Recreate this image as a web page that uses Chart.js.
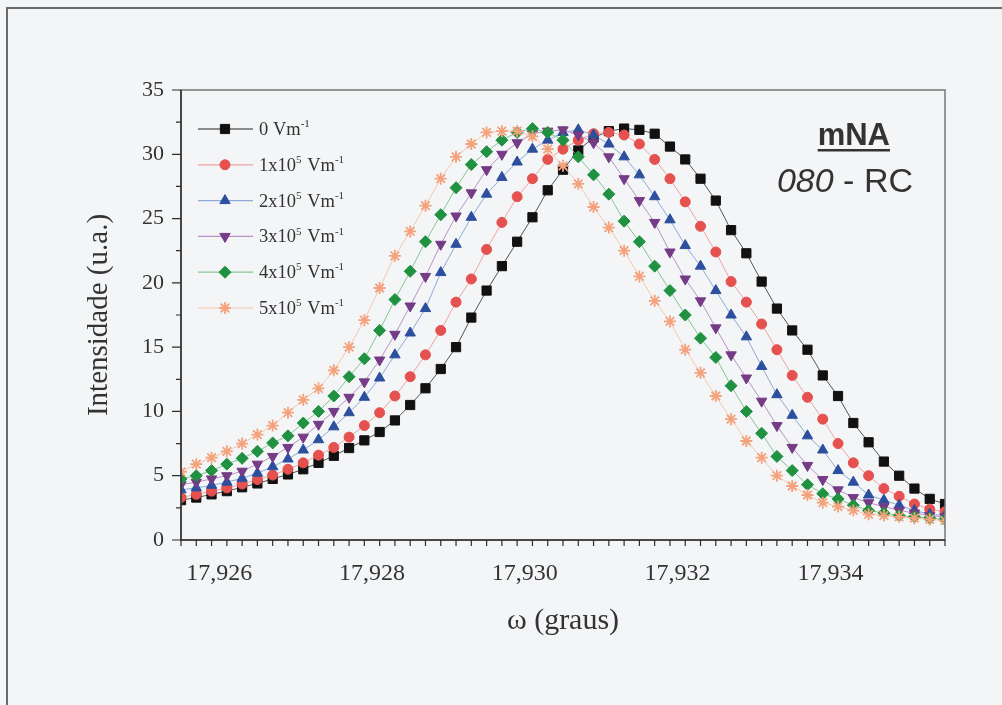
<!DOCTYPE html>
<html>
<head>
<meta charset="utf-8">
<title>Intensidade x omega</title>
<script src="https://cdn.jsdelivr.net/npm/chart.js"></script>
<style>
  html, body { margin: 0; padding: 0; background: #f3f5f7; }
  #wrap { width: 1002px; height: 705px; }
</style>
</head>
<body>
<div id="wrap"><canvas id="chart" width="1002" height="705"></canvas></div>
<script>
// omega (graus), one value per measured point
const omega = [
  17.9255, 17.9257, 17.9259, 17.9261, 17.9263, 17.9265, 17.9267, 17.9269, 17.9271, 17.9273,
  17.9275, 17.9277, 17.9279, 17.9281, 17.9283, 17.9285, 17.9287, 17.9289, 17.9291, 17.9293,
  17.9295, 17.9297, 17.9299, 17.9301, 17.9303, 17.9305, 17.9307, 17.9309, 17.9311, 17.9313,
  17.9315, 17.9317, 17.9319, 17.9321, 17.9323, 17.9325, 17.9327, 17.9329, 17.9331, 17.9333,
  17.9335, 17.9337, 17.9339, 17.9341, 17.9343, 17.9345, 17.9347, 17.9349, 17.9351, 17.9353, 17.9355
];

const fieldLabels = ['0 Vm⁻¹', '1x10⁵ Vm⁻¹', '2x10⁵ Vm⁻¹', '3x10⁵ Vm⁻¹', '4x10⁵ Vm⁻¹', '5x10⁵ Vm⁻¹'];

const field0 = [
  3.1, 3.3, 3.55, 3.8, 4.1, 4.4, 4.75, 5.1, 5.5, 6.0,
  6.55, 7.15, 7.75, 8.4, 9.3, 10.5, 11.8, 13.3, 15.0, 17.3,
  19.4, 21.3, 23.2, 25.1, 27.2, 28.8, 30.3, 31.3, 31.8, 32.0,
  31.9, 31.6, 30.6, 29.6, 28.1, 26.4, 24.1, 22.3, 20.1, 18.0,
  16.3, 14.8, 12.8, 11.2, 9.1, 7.6, 6.1, 5.0, 4.0, 3.2, 2.8
];
const field1 = [
  3.3, 3.55, 3.8, 4.05, 4.35, 4.7, 5.05, 5.5, 6.0, 6.6,
  7.2, 8.0, 8.9, 9.9, 11.2, 12.7, 14.4, 16.3, 18.5, 20.3,
  22.6, 24.7, 26.7, 28.1, 29.6, 30.4, 31.1, 31.6, 31.7, 31.5,
  30.8, 29.6, 28.1, 26.3, 24.4, 22.4, 20.1, 18.5, 16.8, 14.8,
  12.8, 11.1, 9.4, 7.5, 6.0, 5.0, 4.0, 3.4, 2.8, 2.4, 2.2
];
const field2 = [
  3.9, 4.05, 4.25, 4.5, 4.8, 5.2, 5.7, 6.3, 7.0, 7.8,
  8.8, 9.9, 11.1, 12.6, 14.4, 16.1, 18.0, 20.8, 23.0, 25.1,
  26.9, 28.2, 29.4, 30.4, 31.1, 31.7, 31.9, 31.5, 30.8, 29.8,
  28.4, 26.7, 24.9, 22.9, 21.3, 19.4, 17.5, 15.8, 13.5, 11.3,
  9.7, 8.1, 7.0, 5.4, 4.5, 3.5, 3.1, 2.7, 2.3, 2.0, 1.9
];
const field3 = [
  4.3, 4.5, 4.75, 5.0, 5.35, 5.9, 6.5, 7.2, 8.0, 9.0,
  10.0, 11.1, 12.3, 14.0, 16.0, 18.2, 20.5, 23.0, 25.2, 27.0,
  28.8, 30.0, 30.9, 31.6, 31.8, 31.9, 31.5, 30.9, 29.8, 28.1,
  26.4, 24.7, 22.4, 20.3, 18.6, 16.5, 14.4, 12.6, 10.8, 8.9,
  7.2, 5.8, 4.7, 3.9, 3.3, 2.9, 2.6, 2.3, 2.1, 1.9, 1.8
];
const field4 = [
  4.75, 5.0, 5.4, 5.9, 6.35, 6.9, 7.55, 8.1, 9.1, 10.0,
  11.2, 12.7, 14.1, 16.3, 18.7, 20.9, 23.2, 25.3, 27.4, 29.2,
  30.2, 31.1, 31.7, 32.0, 31.7, 31.1, 29.8, 28.4, 26.9, 24.8,
  23.2, 21.3, 19.4, 17.5, 15.7, 14.2, 12.0, 10.0, 8.3, 6.5,
  5.4, 4.3, 3.6, 3.2, 2.7, 2.3, 2.1, 1.9, 1.8, 1.7, 1.6
];
const field5 = [
  5.3, 5.9, 6.4, 6.9, 7.5, 8.2, 8.9, 9.9, 10.9, 11.8,
  13.2, 15.0, 17.1, 19.6, 22.1, 24.0, 26.0, 28.1, 29.8, 30.8,
  31.7, 31.8, 31.8, 31.4, 30.4, 29.1, 27.7, 25.9, 24.3, 22.5,
  20.5, 18.6, 17.0, 14.8, 13.0, 11.2, 9.4, 7.7, 6.4, 5.0,
  4.2, 3.5, 2.9, 2.6, 2.3, 2.0, 1.9, 1.8, 1.7, 1.6, 1.5
];

const xMajorTicks = [17.926, 17.928, 17.930, 17.932, 17.934];
const xMinorStep = 0.0002;
const yMajorTicks = [0, 5, 10, 15, 20, 25, 30, 35];
const yMinorStep = 2.5;

const series = [field0, field1, field2, field3, field4, field5];
const markerColors = ['#111111', '#e5514f', '#2c4f9e', '#753b86', '#1f9140', '#f3a27c'];
const lineColors = ['#555555', '#f0a3a3', '#8fa9d6', '#b894c4', '#86c695', '#f7c8ad'];
const styles = [
  { pointStyle: 'rect', radius: 6.5, rotation: 0, borderWidth: 1 },
  { pointStyle: 'circle', radius: 5, rotation: 0, borderWidth: 1 },
  { pointStyle: 'triangle', radius: 6, rotation: 0, borderWidth: 1 },
  { pointStyle: 'triangle', radius: 6, rotation: 180, borderWidth: 1 },
  { pointStyle: 'rectRot', radius: 6, rotation: 0, borderWidth: 1 },
  { pointStyle: 'star', radius: 6, rotation: 0, borderWidth: 1.8 }
];

const serif = '"Liberation Serif", "Times New Roman", serif';
const sans = '"Liberation Sans", Arial, sans-serif';
const ink = '#333333';

const datasets = series.map((vals, i) => ({
  label: fieldLabels[i],
  data: omega.map((w, k) => ({ x: w, y: vals[k] })),
  borderColor: lineColors[i],
  borderWidth: 1,
  backgroundColor: markerColors[i],
  pointStyle: styles[i].pointStyle,
  pointRadius: styles[i].radius,
  pointRotation: styles[i].rotation,
  pointBackgroundColor: markerColors[i],
  pointBorderColor: markerColors[i],
  pointBorderWidth: styles[i].borderWidth,
  tension: 0,
  fill: false,
  order: series.length - i
}));

// draws "1x10⁵ Vm⁻¹" with real raised superscripts
function drawSupText(ctx, text, x, y, size) {
  const supMap = { '⁰': '0', '¹': '1', '²': '2', '³': '3', '⁴': '4', '⁵': '5', '⁶': '6', '⁷': '7', '⁸': '8', '⁹': '9', '⁻': '-' };
  const parts = [];
  for (const ch of text) {
    const sup = ch in supMap;
    const c = sup ? supMap[ch] : ch;
    if (parts.length && parts[parts.length - 1].sup === sup) parts[parts.length - 1].t += c;
    else parts.push({ t: c, sup });
  }
  ctx.textAlign = 'left';
  ctx.textBaseline = 'alphabetic';
  let cx = x;
  for (const p of parts) {
    ctx.font = (p.sup ? Math.round(size * 0.62) : size) + 'px ' + serif;
    ctx.fillText(p.t, cx, p.sup ? y - size * 0.42 : y);
    cx += ctx.measureText(p.t).width + (p.sup ? 1 : 0);
  }
}

const decorations = {
  id: 'decorations',
  beforeDraw(chart) {
    const ctx = chart.ctx;
    ctx.save();
    ctx.fillStyle = '#f3f5f7';
    ctx.fillRect(0, 0, chart.width, chart.height);
    // frame of the scanned page
    ctx.strokeStyle = '#6a6a6a';
    ctx.lineWidth = 2;
    ctx.beginPath();
    ctx.moveTo(7, 705);
    ctx.lineTo(7, 8);
    ctx.lineTo(1002, 8);
    ctx.stroke();
    ctx.restore();
  },
  afterDraw(chart) {
    const ctx = chart.ctx;
    const a = chart.chartArea;
    const xs = chart.scales.x;
    const ys = chart.scales.y;
    ctx.save();

    // plot box
    ctx.strokeStyle = '#777777';
    ctx.lineWidth = 1.5;
    ctx.strokeRect(a.left, a.top, a.right - a.left, a.bottom - a.top);
    ctx.strokeStyle = '#2e2e2e';
    ctx.beginPath();
    ctx.moveTo(a.left, a.top);
    ctx.lineTo(a.left, a.bottom);
    ctx.lineTo(a.right, a.bottom);
    ctx.stroke();

    // outward ticks
    ctx.lineWidth = 1.2;
    ctx.beginPath();
    for (let v = xs.min; v <= xs.max + 1e-9; v += xMinorStep) {
      const px = xs.getPixelForValue(v);
      const major = xMajorTicks.some(t => Math.abs(t - v) < 1e-7);
      ctx.moveTo(px, a.bottom);
      ctx.lineTo(px, a.bottom + (major ? 10 : 6));
    }
    for (let v = ys.min; v <= ys.max + 1e-9; v += yMinorStep) {
      const py = ys.getPixelForValue(v);
      const major = yMajorTicks.includes(v);
      ctx.moveTo(a.left, py);
      ctx.lineTo(a.left - (major ? 9 : 5), py);
    }
    ctx.stroke();

    // legend inside the plot
    const rowTop = 129, rowGap = 35.8;
    chart.data.datasets.forEach((ds, i) => {
      const y = rowTop + i * rowGap;
      ctx.strokeStyle = i === 0 ? '#222222' : ds.borderColor;
      ctx.lineWidth = 1.2;
      ctx.beginPath();
      ctx.moveTo(198, y);
      ctx.lineTo(253, y);
      ctx.stroke();
      ctx.fillStyle = ds.pointBackgroundColor;
      ctx.strokeStyle = ds.pointBorderColor;
      ctx.lineWidth = ds.pointBorderWidth;
      Chart.helpers.drawPoint(ctx, {
        pointStyle: ds.pointStyle,
        radius: ds.pointRadius,
        rotation: ds.pointRotation,
        borderWidth: ds.pointBorderWidth
      }, 225, y);
      ctx.fillStyle = ink;
      drawSupText(ctx, ds.label, 259, y + 6, 18.5);
    });

    // sample annotation
    ctx.fillStyle = ink;
    ctx.textBaseline = 'alphabetic';
    ctx.textAlign = 'right';
    ctx.font = 'bold 31px ' + sans;
    ctx.fillText('mNA', 890, 145);
    const wm = ctx.measureText('mNA').width;
    ctx.fillRect(890 - wm, 149, wm, 2.5);
    ctx.font = '34px ' + sans;
    ctx.fillText(' - RC', 913, 192);
    const wr = ctx.measureText(' - RC').width;
    ctx.font = 'italic 34px ' + sans;
    ctx.fillText('080', 913 - wr, 192);

    ctx.restore();
  }
};

new Chart(document.getElementById('chart'), {
  type: 'line',
  data: { datasets },
  plugins: [decorations],
  options: {
    responsive: false,
    devicePixelRatio: 1,
    animation: false,
    layout: { padding: { left: 81, top: 90, right: 57, bottom: 66 } },
    plugins: { legend: { display: false }, tooltip: { enabled: false } },
    scales: {
      x: {
        type: 'linear',
        min: 17.9255,
        max: 17.9355,
        grid: { display: false, drawTicks: false },
        border: { display: false },
        afterBuildTicks: s => { s.ticks = xMajorTicks.map(v => ({ value: v })); },
        afterFit: s => { s.height = 99; },
        ticks: {
          autoSkip: false,
          maxRotation: 0,
          padding: 19,
          color: ink,
          font: { family: serif, size: 24 },
          callback: v => v.toFixed(3).replace('.', ',')
        },
        title: { display: true, text: 'ω (graus)', color: ink, font: { family: serif, size: 30 }, padding: 0 }
      },
      y: {
        min: 0,
        max: 35,
        grid: { display: false, drawTicks: false },
        border: { display: false },
        afterBuildTicks: s => { s.ticks = yMajorTicks.map(v => ({ value: v })); },
        afterFit: s => { s.width = 100; },
        ticks: {
          padding: 17,
          color: ink,
          font: { family: serif, size: 22 }
        },
        title: { display: true, text: 'Intensidade (u.a.)', color: ink, font: { family: serif, size: 29 }, padding: 1 }
      }
    }
  }
});
</script>
</body>
</html>
